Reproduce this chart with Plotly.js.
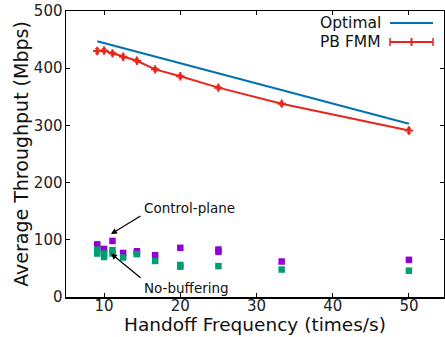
<!DOCTYPE html>
<html><head><meta charset="utf-8">
<script src="https://cdn.plot.ly/plotly-3.0.1.min.js"></script>
<style>html,body{margin:0;padding:0;background:#fff}#c{width:445px;height:337px}</style>
</head><body><div id="c"></div>
<script>
const freq = [9.1, 10, 11.1, 12.5, 14.3, 16.7, 20, 25, 33.3, 50];
const optimalX = [9.1, 50];
const optimalY = [447, 303];
const pbfmm = [430, 431, 426, 420, 413, 398, 386, 366, 338, 291];
const pbfmmErr = [4, 3, 3, 3, 3, 3, 3, 3, 3, 4];
const ctrlX = [9.1, 9.1, 10, 11.1, 12.5, 14.3, 14.3, 16.7, 20, 25, 25, 33.3, 50];
const ctrlY = [92, 85, 84, 98, 77, 80, 76, 73, 86, 83, 79, 62, 65];
const nobufX = [9.1, 9.1, 10, 10, 11.1, 11.1, 12.5, 14.3, 16.7, 20, 20, 25, 33.3, 50];
const nobufY = [83, 76, 76, 70, 82, 76, 69, 75, 63, 56, 53, 54, 48, 46];

const font = "DejaVu Sans, sans-serif";
const traces = [
  {x: optimalX, y: optimalY, mode: 'lines', line: {color: '#0072B2', width: 2}, showlegend: false},
  {x: freq, y: pbfmm, mode: 'lines+markers', line: {color: '#E8251C', width: 2},
   marker: {symbol: 'cross-thin', size: 6, color: '#E8251C', line: {color: '#E8251C', width: 2}},
   error_y: {type: 'data', array: pbfmmErr, color: '#E8251C', thickness: 1.5, width: 2}, showlegend: false},
  {x: ctrlX, y: ctrlY, mode: 'markers', marker: {symbol: 'square', size: 6.5, color: '#9400D3'}, showlegend: false},
  {x: nobufX, y: nobufY, mode: 'markers', marker: {symbol: 'square', size: 6.5, color: '#009E73'}, showlegend: false}
];
const axBase = {showline: true, linecolor: '#000', linewidth: 1.5, mirror: 'ticks', ticks: 'inside',
  ticklen: 4, tickcolor: '#000', showgrid: false, zeroline: false,
  tickfont: {family: font, size: 15, color: '#222'}};
const xr = [5, 54.6], yr = [0, 500];
const L = 66, R = 1, T = 11, B = 40, W = 445, H = 337;
const pw = W - L - R, ph = H - T - B;
const px = v => (v - L) / pw, py = v => 1 - (v - T) / ph;
const xs = v => L + (v - xr[0]) / (xr[1] - xr[0]) * pw, ys = v => T + (1 - v / yr[1]) * ph;

const layout = {
  width: W, height: H,
  margin: {l: L, r: R, t: T, b: B},
  paper_bgcolor: '#fff', plot_bgcolor: '#fff',
  xaxis: Object.assign({}, axBase, {range: xr, tickvals: [10, 20, 30, 40, 50], ticklabelstandoff: -6,
    title: {text: 'Handoff Frequency (times/s)', font: {family: font, size: 18.5, color: '#111'}, standoff: 0}}),
  yaxis: Object.assign({}, axBase, {range: yr, tickvals: [0, 100, 200, 300, 400, 500], ticklabelstandoff: -1,
    title: {text: 'Average Throughput (Mbps)', font: {family: font, size: 19, color: '#111'}, standoff: 0}}),
  annotations: [
    {x: 10.9, y: 110, xref: 'x', yref: 'y', ax: 142 - xs(10.9), ay: 215 - ys(110),
     text: '', showarrow: true, arrowhead: 2, arrowsize: 1, arrowwidth: 1.2, arrowcolor: '#000'},
    {x: 10.9, y: 76, xref: 'x', yref: 'y', ax: 142 - xs(10.9), ay: 279 - ys(76),
     text: '', showarrow: true, arrowhead: 2, arrowsize: 1, arrowwidth: 1.2, arrowcolor: '#000'},
    {x: px(142), y: py(208), xref: 'paper', yref: 'paper', text: 'Control-plane', showarrow: false,
     font: {family: font, size: 13.5, color: '#111'}, xanchor: 'left', yanchor: 'middle'},
    {x: px(142), y: py(288), xref: 'paper', yref: 'paper', text: 'No-buffering', showarrow: false,
     font: {family: font, size: 13.5, color: '#111'}, xanchor: 'left', yanchor: 'middle'},
    {text: 'Optimal', showarrow: false, xref: 'paper', yref: 'paper', x: px(383), y: py(23),
     font: {family: font, size: 15.5, color: '#111'}, xanchor: 'right', yanchor: 'middle'},
    {text: 'PB FMM', showarrow: false, xref: 'paper', yref: 'paper', x: px(383), y: py(42),
     font: {family: font, size: 15.5, color: '#111'}, xanchor: 'right', yanchor: 'middle'}
  ],
  shapes: [
    {type: 'line', xref: 'paper', yref: 'paper', x0: px(390), x1: px(433), y0: py(23), y1: py(23), line: {color: '#0072B2', width: 2}},
    {type: 'line', xref: 'paper', yref: 'paper', x0: px(390), x1: px(433), y0: py(42), y1: py(42), line: {color: '#E8251C', width: 2}},
    {type: 'line', xref: 'paper', yref: 'paper', x0: px(390), x1: px(390), y0: py(38), y1: py(46), line: {color: '#E8251C', width: 1.5}},
    {type: 'line', xref: 'paper', yref: 'paper', x0: px(433), x1: px(433), y0: py(38), y1: py(46), line: {color: '#E8251C', width: 1.5}},
    {type: 'line', xref: 'paper', yref: 'paper', x0: px(411.5), x1: px(411.5), y0: py(38), y1: py(46), line: {color: '#E8251C', width: 2}}
  ]
};
Plotly.newPlot('c', traces, layout, {staticPlot: true});
</script></body></html>
